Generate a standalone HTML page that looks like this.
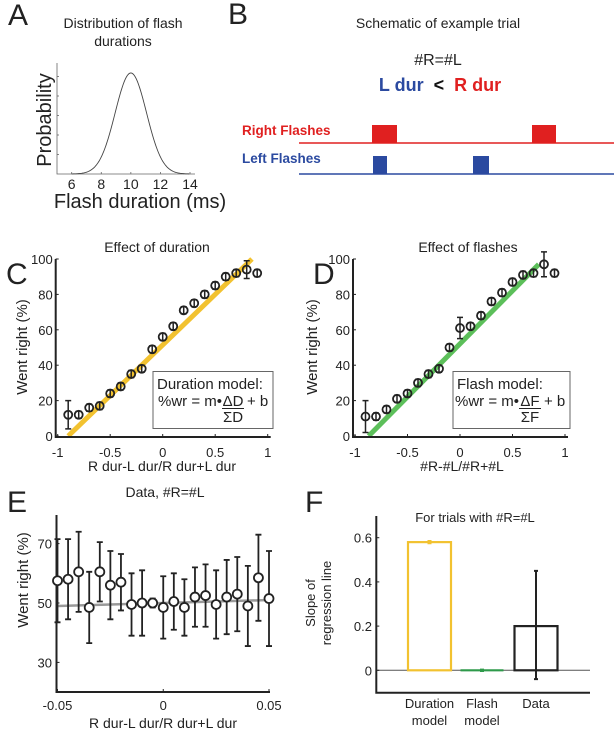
<!DOCTYPE html>
<html><head><meta charset="utf-8"><style>
body{margin:0;background:#fff;}
svg{display:block;font-family:"Liberation Sans",sans-serif;}
text{fill:#222;}
</style></head><body>
<svg id="fig" width="614" height="730" viewBox="0 0 614 730">
<g font-size="30">
<text x="8" y="25">A</text>
<text x="228" y="24">B</text>
<text x="6" y="284">C</text>
<text x="313" y="284">D</text>
<text x="7" y="512">E</text>
<text x="305" y="512">F</text>
</g>
<g id="pa">
<text x="123" y="28" font-size="14" text-anchor="middle">Distribution of flash</text>
<text x="123" y="46" font-size="14" text-anchor="middle">durations</text>
<text x="0" y="0" font-size="20" text-anchor="middle" transform="translate(51,120) rotate(-90)">Probability</text>
<text x="140" y="208" font-size="20" text-anchor="middle">Flash duration (ms)</text>
</g>
<g id="pb">
<text x="438" y="28" font-size="14" text-anchor="middle">Schematic of example trial</text>
<text x="438" y="65" font-size="16" text-anchor="middle">#R=#L</text>
<text x="440" y="91" font-size="18" font-weight="bold" text-anchor="middle"><tspan style="fill:#2b4aa0">L dur</tspan><tspan dx="10" style="fill:#111">&lt;</tspan><tspan dx="10" style="fill:#e02020">R dur</tspan></text>
<text x="242" y="135" font-size="13.5" font-weight="bold" style="fill:#e02020">Right Flashes</text>
<text x="242" y="163" font-size="13.5" font-weight="bold" style="fill:#2b4aa0">Left Flashes</text>
<line x1="299" y1="143" x2="614" y2="143" stroke="#e02020" stroke-width="1.5"/>
<rect x="372" y="125" width="25" height="18" fill="#e02020"/>
<rect x="532" y="125" width="24" height="18" fill="#e02020"/>
<line x1="299" y1="174" x2="614" y2="174" stroke="#2b4aa0" stroke-width="1.5"/>
<rect x="373" y="156" width="14" height="18" fill="#2b4aa0"/>
<rect x="473" y="156" width="16" height="18" fill="#2b4aa0"/>
</g>
<g id="pc">
<text x="157" y="252" font-size="14" text-anchor="middle">Effect of duration</text>
<text x="0" y="0" font-size="15" text-anchor="middle" transform="translate(27,347) rotate(-90)">Went right (%)</text>
<text x="162" y="471" font-size="14" text-anchor="middle">R dur-L dur/R dur+L dur</text>
</g>
<g id="pd">
<text x="468" y="252" font-size="14" text-anchor="middle">Effect of flashes</text>
<text x="0" y="0" font-size="15" text-anchor="middle" transform="translate(317,347) rotate(-90)">Went right (%)</text>
<text x="462" y="471" font-size="14" text-anchor="middle">#R-#L/#R+#L</text>
</g>
<g id="pe">
<text x="165" y="497" font-size="14" text-anchor="middle">Data, #R=#L</text>
<text x="0" y="0" font-size="15" text-anchor="middle" transform="translate(28,580) rotate(-90)">Went right (%)</text>
<text x="163" y="728" font-size="14" text-anchor="middle">R dur-L dur/R dur+L dur</text>
</g>
<g id="pf">
<text x="475" y="522" font-size="13" text-anchor="middle">For trials with #R=#L</text>
<text x="0" y="0" font-size="13" text-anchor="middle" transform="translate(315,603) rotate(-90)">Slope of</text>
<text x="0" y="0" font-size="13" text-anchor="middle" transform="translate(331,603) rotate(-90)">regression line</text>
</g>
</svg>
<script>
// Panel A
const aTicks=[6,8,10,12,14];
const aMean=[10];
const aSigma=[1.06];
// Panel C data
const cX=[-0.9,-0.8,-0.7,-0.6,-0.5,-0.4,-0.3,-0.2,-0.1,0,0.1,0.2,0.3,0.4,0.5,0.6,0.7,0.8,0.9];
const cY=[12,12,16,17,24,28,35,38,49,56,62,71,75,80,85,90,92,94,92];
const cErr=[8,2,2,2,2,2,2,2,2,2,2,2,2,2,2,2,2,5,2];
const cFitX=[-0.9,0.85];
const cFitY=[0,100];
// Panel D data
const dX=[-0.9,-0.8,-0.7,-0.6,-0.5,-0.4,-0.3,-0.2,-0.1,0,0.1,0.2,0.3,0.4,0.5,0.6,0.7,0.8,0.9];
const dY=[11,11,15,21,24,30,35,38,50,61,62,68,76,81,87,91,92,97,92];
const dErr=[9,2,2,2,2,2,2,2,2,6,2,2,2,2,2,2,2,7,2];
const dFitX=[-0.87,0.75];
const dFitY=[0,97];
const cdXTicks=[-1,-0.5,0,0.5,1];
const cdXTickLabels=["-1","-0.5","0","0.5","1"];
const cdYTicks=[0,20,40,60,80,100];
// Panel E data
const eX=[-0.05,-0.045,-0.04,-0.035,-0.03,-0.025,-0.02,-0.015,-0.01,-0.005,0,0.005,0.01,0.015,0.02,0.025,0.03,0.035,0.04,0.045,0.05];
const eY=[57.5,58,60.5,48.5,60.5,56,57,49.5,50,50,48.5,50.5,48.5,52,52.5,49.5,52,53,49,58.5,51.5];
const eErr=[14,13.5,13.5,12,10,11.5,9.5,10.5,11,1.5,10.5,9.5,9.5,10,10.5,11.5,12.5,12.5,13.5,14.5,16];
const eFitX=[-0.05,0.05];
const eFitY=[49,51];
const eXTicks=[-0.05,0,0.05];
const eXTickLabels=["-0.05","0","0.05"];
const eYTicks=[30,50,70];
// Panel F data
const fCats=["Duration model","Flash model","Data"];
const fVals=[0.58,0,0.2];
const fErrLo=[0.575,-0.003,-0.04];
const fErrHi=[0.585,0.003,0.45];
const fColors=["#f2c230","#2e9a4a","#222"];
const fYTicks=[0,0.2,0.4,0.6];

const NS="http://www.w3.org/2000/svg";
const svg=document.getElementById('fig');
function mk(tag,attrs,parent){const e=document.createElementNS(NS,tag);for(const k in attrs)e.setAttribute(k,attrs[k]);(parent||svg).appendChild(e);return e;}
function lin(d0,d1,r0,r1){return v=>r0+(v-d0)*(r1-r0)/(d1-d0);}

// ---- Panel A ----
(function(){
const g=document.getElementById('pa');
const x=lin(6,14,71.7,190), y=lin(0,1,174,73);
const ax=mk('path',{d:'M57,63 V174 H195',fill:'none',stroke:'#666','stroke-width':0.8},g);

aTicks.forEach((t,i)=>{
 const tl=mk('line',{x1:x(t),x2:x(t),y1:174,y2:172,stroke:'#666','stroke-width':0.8},g);
 
 const tx=mk('text',{x:x(t),y:189,'font-size':14,'text-anchor':'middle'},g);tx.textContent=t;
 
});
for(let k=1;k<=5;k++){const yl=mk('line',{x1:57,x2:59,y1:174-k*19.5,y2:174-k*19.5,stroke:'#666','stroke-width':0.8},g);
 }
let d='';for(let v=6;v<=14;v+=0.05){const p=Math.exp(-0.5*Math.pow((v-aMean[0])/aSigma[0],2));d+=(d?'L':'M')+x(v).toFixed(2)+','+y(p).toFixed(2);}
const c=mk('path',{d:d,fill:'none',stroke:'#444','stroke-width':0.9},g);

})();

// ---- Panels C & D ----
function scatterPanel(gid,prefix,x0px,X,Y,E,FX,FY,fitColor,boxX,boxW,name,num,den,lhsX,fracX){
const g=document.getElementById(gid);
const x=lin(-1,1,x0px,x0px+210), y=lin(0,100,436,259);
const fit=mk('line',{x1:x(FX[0]),y1:y(FY[0]),x2:x(FX[1]),y2:y(FY[1]),stroke:fitColor,'stroke-width':5},g);

const ax=mk('path',{d:`M${x0px-2},259 V437 H${x0px+213}`,fill:'none',stroke:'#222','stroke-width':2},g);

cdYTicks.forEach(t=>{
 const tl=mk('line',{x1:x0px-2,x2:x0px+1,y1:y(t),y2:y(t),stroke:'#222','stroke-width':1},g);
 
 const tx=mk('text',{x:x0px-5,y:y(t)+5,'font-size':13,'text-anchor':'end'},g);tx.textContent=t;
 
});
cdXTicks.forEach((t,i)=>{
 const tl=mk('line',{x1:x(t),x2:x(t),y1:437,y2:434,stroke:'#222','stroke-width':1},g);
 
 const tx=mk('text',{x:x(t),y:457,'font-size':13,'text-anchor':'middle'},g);tx.textContent=cdXTickLabels[i];
 
});
X.forEach((v,i)=>{
 const eb=mk('path',{d:`M${x(v)},${y(Y[i]+E[i])} V${y(Y[i]-E[i])} M${x(v)-3},${y(Y[i]+E[i])} h6 M${x(v)-3},${y(Y[i]-E[i])} h6`,stroke:'#222','stroke-width':1.5,fill:'none'},g);
 
 const pt=mk('circle',{cx:x(v),cy:y(Y[i]),r:4,fill:'none',stroke:'#222','stroke-width':1.8},g);
 
});
const box=mk('rect',{x:boxX,y:371.5,width:boxW,height:57,fill:'#fff',stroke:'#666','stroke-width':1},g);

const t1=mk('text',{x:boxX+4,y:389,'font-size':15},g);t1.textContent=name;

const t2=mk('text',{x:fracX-11,y:406,'font-size':15,'text-anchor':'end'},g);t2.textContent='%wr = m\u2022';

const t2b=mk('text',{x:fracX,y:406,'font-size':15,'text-anchor':'middle'},g);t2b.textContent=num;

const fl=mk('line',{x1:fracX-11,x2:fracX+11,y1:408.5,y2:408.5,stroke:'#222','stroke-width':1},g);

const t2c=mk('text',{x:fracX+14,y:406,'font-size':15},g);t2c.textContent='+ b';

const t3=mk('text',{x:fracX,y:422,'font-size':15,'text-anchor':'middle'},g);t3.textContent=den;

}
scatterPanel('pc','panel-c',57.7,cX,cY,cErr,cFitX,cFitY,'#f2c230',153,120,'Duration model:','\u0394D','\u03A3D',155,233);
scatterPanel('pd','panel-d',355,dX,dY,dErr,dFitX,dFitY,'#5cbf5a',453,117,'Flash model:','\u0394F','\u03A3F',454,530);

// ---- Panel E ----
(function(){
const g=document.getElementById('pe');
const x=lin(-0.05,0.05,57.5,269), y=lin(50,70,603,543.6);
const fit=mk('line',{x1:x(eFitX[0]),y1:y(eFitY[0]),x2:x(eFitX[1]),y2:y(eFitY[1]),stroke:'#999','stroke-width':2.5},g);

const ax=mk('path',{d:'M56.5,515 V692 H270',fill:'none',stroke:'#222','stroke-width':2},g);

eYTicks.forEach(t=>{
 const tl=mk('line',{x1:56.5,x2:59.5,y1:y(t),y2:y(t),stroke:'#222','stroke-width':1},g);
 
 const tx=mk('text',{x:52,y:y(t)+5,'font-size':13,'text-anchor':'end'},g);tx.textContent=t;
 
});
eXTicks.forEach((t,i)=>{
 const tl=mk('line',{x1:x(t),x2:x(t),y1:692,y2:689,stroke:'#222','stroke-width':1},g);
 
 const tx=mk('text',{x:x(t),y:710,'font-size':13,'text-anchor':'middle'},g);tx.textContent=eXTickLabels[i];
 
});
eX.forEach((v,i)=>{
 const eb=mk('path',{d:`M${x(v)},${y(eY[i]+eErr[i])} V${y(eY[i]-eErr[i])} M${x(v)-3},${y(eY[i]+eErr[i])} h6 M${x(v)-3},${y(eY[i]-eErr[i])} h6`,stroke:'#222','stroke-width':1.8,fill:'none'},g);
 
 const pt=mk('circle',{cx:x(v),cy:y(eY[i]),r:4.5,fill:'#fff',stroke:'#222','stroke-width':1.8},g);
 
});
})();

// ---- Panel F ----
(function(){
const g=document.getElementById('pf');
const y=lin(0,0.6,670.3,537.7);
const centers=[429.5,482,536], bw=43;
const zl=mk('line',{x1:376,x2:590,y1:y(0),y2:y(0),stroke:'#555','stroke-width':1},g);

const ax=mk('path',{d:'M376.3,516 V692.7 H590',fill:'none',stroke:'#222','stroke-width':2},g);

fYTicks.forEach(t=>{
 const tl=mk('line',{x1:376.3,x2:379.3,y1:y(t),y2:y(t),stroke:'#222','stroke-width':1},g);
 
 const tx=mk('text',{x:372,y:y(t)+5,'font-size':13,'text-anchor':'end'},g);tx.textContent=t;
 
});
fCats.forEach((c,i)=>{
 const h=Math.abs(y(0)-y(fVals[i]));
 if(fVals[i]!==0){
  const b=mk('rect',{x:centers[i]-bw/2,y:Math.min(y(0),y(fVals[i])),width:bw,height:h,fill:'none',stroke:fColors[i],'stroke-width':2.2},g);
  
 } else {
  const b=mk('line',{x1:centers[i]-bw/2,x2:centers[i]+bw/2,y1:y(0),y2:y(0),stroke:fColors[i],'stroke-width':2.2},g);
  
 }
 const eb=mk('path',{d:`M${centers[i]},${y(fErrHi[i])} V${y(fErrLo[i])} M${centers[i]-2},${y(fErrHi[i])} h4 M${centers[i]-2},${y(fErrLo[i])} h4`,stroke:fColors[i],'stroke-width':2,fill:'none'},g);
 
 const words=c.split(' ');
 words.forEach((w,j)=>{
  const tx=mk('text',{x:centers[i],y:708+j*17,'font-size':13,'text-anchor':'middle'},g);tx.textContent=w;
  
 });
});
})();
</script>
</body></html>
